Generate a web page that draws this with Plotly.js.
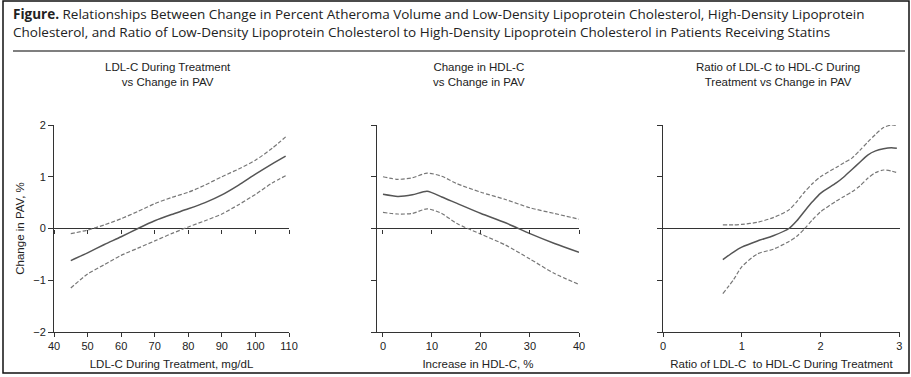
<!DOCTYPE html>
<html>
<head>
<meta charset="utf-8">
<script src="https://cdn.plot.ly/plotly-3.0.1.min.js"></script>
<style>html,body{margin:0;padding:0;background:#fff;}#chart{width:911px;height:377px;}</style>
</head>
<body>
<div id="chart"></div>
<script>
// Panel 1: LDL-C during treatment (mg/dL) vs change in PAV (%)
const ldlX     = [45, 50, 55, 60, 65, 70, 75, 80, 85, 90, 95, 100, 105, 109];
const ldlFit   = [-0.62, -0.47, -0.31, -0.16, 0.0, 0.15, 0.27, 0.38, 0.50, 0.65, 0.84, 1.05, 1.25, 1.40];
const ldlUpper = [-0.10, -0.03, 0.07, 0.19, 0.33, 0.48, 0.60, 0.70, 0.84, 1.00, 1.15, 1.32, 1.55, 1.77];
const ldlLower = [-1.15, -0.88, -0.70, -0.52, -0.38, -0.24, -0.10, 0.03, 0.15, 0.28, 0.46, 0.66, 0.88, 1.02];

// Panel 2: increase in HDL-C (%) vs change in PAV (%)
const hdlX     = [0, 3, 6, 9, 12, 15, 20, 25, 30, 35, 40];
const hdlFit   = [0.66, 0.62, 0.65, 0.72, 0.61, 0.49, 0.29, 0.11, -0.10, -0.29, -0.46];
const hdlUpper = [1.00, 0.95, 0.98, 1.07, 1.01, 0.87, 0.70, 0.56, 0.40, 0.29, 0.18];
const hdlLower = [0.31, 0.28, 0.29, 0.38, 0.29, 0.10, -0.11, -0.32, -0.59, -0.87, -1.08];

// Panel 3: ratio of LDL-C to HDL-C vs change in PAV (%)
const ratioX     = [0.76, 0.9, 1.0, 1.2, 1.4, 1.6, 1.7, 1.8, 1.9, 2.0, 2.2, 2.3, 2.4, 2.5, 2.6, 2.7, 2.8, 2.9, 2.97];
const ratioFit   = [-0.60, -0.45, -0.36, -0.24, -0.14, 0.0, 0.15, 0.34, 0.52, 0.68, 0.88, 1.00, 1.14, 1.28, 1.42, 1.50, 1.54, 1.56, 1.55];
const ratioUpper = [0.07, 0.07, 0.08, 0.12, 0.21, 0.36, 0.52, 0.71, 0.87, 1.00, 1.18, 1.27, 1.36, 1.51, 1.67, 1.82, 1.95, 2.00, 1.99];
const ratioLower = [-1.26, -0.98, -0.74, -0.49, -0.40, -0.25, -0.15, 0.0, 0.17, 0.32, 0.53, 0.62, 0.71, 0.82, 0.97, 1.08, 1.13, 1.11, 1.08];

// Tick labels
const yTicks = [-2, -1, 0, 1, 2];
const ldlTicks = [40, 50, 60, 70, 80, 90, 100, 110];
const hdlTicks = [0, 10, 20, 30, 40];
const ratioTicks = [0, 1, 2, 3];

const panelTitles = [
  'LDL-C During Treatment<br>vs Change in PAV',
  'Change in HDL-C<br>vs Change in PAV',
  'Ratio of LDL-C to HDL-C During<br>Treatment vs Change in PAV'
];
const xTitles = ['LDL-C During Treatment, mg/dL', 'Increase in HDL-C, %', 'Ratio of LDL-C  to HDL-C During Treatment'];
const yTitle = 'Change in PAV, %';
const figTitle = '<b>Figure.</b> Relationships Between Change in Percent Atheroma Volume and Low-Density Lipoprotein Cholesterol, High-Density Lipoprotein<br>Cholesterol, and Ratio of Low-Density Lipoprotein Cholesterol to High-Density Lipoprotein Cholesterol in Patients Receiving Statins';

const W = 911, H = 377;
const solid = {color: '#555', width: 1.5, shape: 'spline', smoothing: 0.7};
const dashed = {color: '#777', width: 1.2, dash: '4px,2px', shape: 'spline', smoothing: 0.7};

function band(x, fit, up, lo, xa, ya) {
  return [
    {x: x, y: up, xaxis: xa, yaxis: ya, mode: 'lines', line: dashed, hoverinfo: 'skip'},
    {x: x, y: lo, xaxis: xa, yaxis: ya, mode: 'lines', line: dashed, hoverinfo: 'skip'},
    {x: x, y: fit, xaxis: xa, yaxis: ya, mode: 'lines', line: solid}
  ];
}

const data = [].concat(
  band(ldlX, ldlFit, ldlUpper, ldlLower, 'x', 'y'),
  band(hdlX, hdlFit, hdlUpper, hdlLower, 'x2', 'y2'),
  band(ratioX, ratioFit, ratioUpper, ratioLower, 'x3', 'y3'),
  // empty traces registering the zero-line tick axes
  [{x: [], y: [], xaxis: 'x4', yaxis: 'y', mode: 'lines', showlegend: false},
   {x: [], y: [], xaxis: 'x5', yaxis: 'y2', mode: 'lines', showlegend: false}]
);

const yDom = [1 - 332 / H, 1 - 125 / H];
const zeroPos = 1 - 228.5 / H;
const tickFont = {family: 'Liberation Sans, Arial, sans-serif', size: 11, color: '#222'};
const titleFont = {family: 'Liberation Sans, Arial, sans-serif', size: 11.5, color: '#222'};

function xAxis(dom, range, ticks, title, anchor) {
  return {
    domain: dom, range: range, anchor: anchor, tickvals: ticks,
    showline: true, linecolor: '#333', linewidth: 1,
    ticks: 'outside', ticklen: 4, tickcolor: '#333', tickwidth: 1,
    tickfont: tickFont, showgrid: false, zeroline: false,
    title: {text: title, font: titleFont, standoff: 8}
  };
}
function yAxis(dom, anchor, labels) {
  return {
    domain: yDom, range: [-2, 2], anchor: anchor, tickvals: yTicks,
    showline: true, linecolor: '#333', linewidth: 1,
    ticks: 'outside', ticklen: 5, tickcolor: '#333', tickwidth: 1,
    showticklabels: labels, tickfont: tickFont, showgrid: false,
    zeroline: true, zerolinecolor: '#333', zerolinewidth: 1
  };
}
function zeroTickAxis(over, range, ticks) {
  return {
    overlaying: over, range: range, anchor: 'free', position: zeroPos,
    tickvals: ticks, showline: false, showticklabels: false,
    ticks: 'outside', ticklen: 4, tickcolor: '#333', tickwidth: 1,
    showgrid: false, zeroline: false
  };
}

const d1 = [54 / W, 289 / W], d2 = [377 / W, 579 / W], d3 = [663 / W, 900 / W];
const r1 = [40, 110], r2 = [-1.22, 40], r3 = [0, 3.01];

const layout = {
  width: W, height: H,
  margin: {l: 0, r: 0, t: 0, b: 0},
  paper_bgcolor: '#fff', plot_bgcolor: 'rgba(0,0,0,0)',
  showlegend: false,
  font: {family: 'Liberation Sans, Arial, sans-serif', color: '#222'},
  xaxis: xAxis(d1, r1, ldlTicks, xTitles[0], 'y'),
  xaxis2: xAxis(d2, r2, hdlTicks, xTitles[1], 'y2'),
  xaxis3: xAxis(d3, r3, ratioTicks, xTitles[2], 'y3'),
  xaxis4: zeroTickAxis('x', r1, ldlTicks),
  xaxis5: zeroTickAxis('x2', r2, hdlTicks),
  yaxis: Object.assign(yAxis(yDom, 'x', true), {title: {text: yTitle, font: titleFont, standoff: 6}}),
  yaxis2: yAxis(yDom, 'x2', false),
  yaxis3: yAxis(yDom, 'x3', false),
  annotations: [
    {text: figTitle, xref: 'paper', yref: 'paper', x: 11 / W, y: 1 - 3 / H,
     xanchor: 'left', yanchor: 'top', align: 'left', showarrow: false,
     font: {family: 'Open Sans, sans-serif', size: 13.5, color: '#222'}},
    {text: panelTitles[0], xref: 'paper', yref: 'paper', x: 168 / W, y: 1 - 75 / H,
     xanchor: 'center', yanchor: 'middle', showarrow: false, font: titleFont},
    {text: panelTitles[1], xref: 'paper', yref: 'paper', x: 479 / W, y: 1 - 75 / H,
     xanchor: 'center', yanchor: 'middle', showarrow: false, font: titleFont},
    {text: panelTitles[2], xref: 'paper', yref: 'paper', x: 778 / W, y: 1 - 75 / H,
     xanchor: 'center', yanchor: 'middle', showarrow: false, font: titleFont}
  ],
  shapes: [
    {type: 'rect', xref: 'paper', yref: 'paper', x0: 3 / W, x1: 909 / W, y0: 1 - 373 / H, y1: 1 - 1 / H,
     line: {color: '#111', width: 1.5}},
    {type: 'line', xref: 'paper', yref: 'paper', x0: 13 / W, x1: 905 / W, y0: 1 - 51 / H, y1: 1 - 51 / H,
     line: {color: '#555', width: 1.5}}
  ]
};

Plotly.newPlot('chart', data, layout, {staticPlot: true, displayModeBar: false});
</script>
</body>
</html>
